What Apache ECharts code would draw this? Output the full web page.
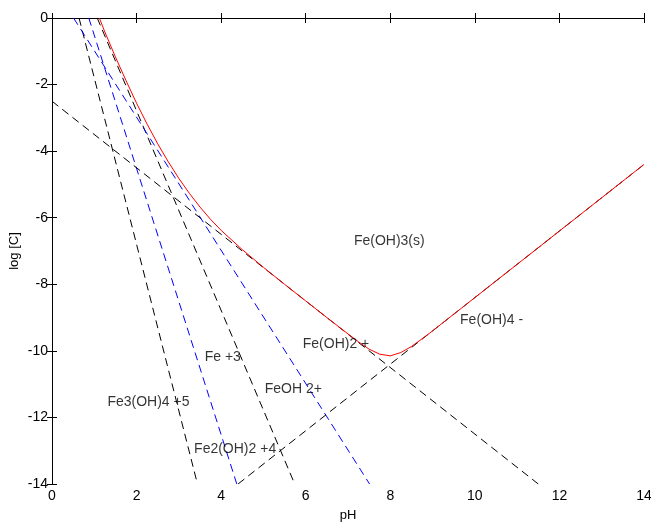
<!DOCTYPE html>
<html>
<head>
<meta charset="utf-8">
<script src="https://cdn.jsdelivr.net/npm/echarts@6/dist/echarts.min.js"></script>
<style>
html,body{margin:0;padding:0;background:#fff;}
#chart{width:651px;height:522px;}
</style>
</head>
<body>
<div id="chart"></div>
<script>
// Axis ticks
var xTicks = [0, 2, 4, 6, 8, 10, 12, 14];
var yTicks = [-14, -12, -10, -8, -6, -4, -2, 0];

// Species lines (pH, log C endpoints)
var fe3oh4 = [[0.64, 0], [3.44, -14]];
var fe2oh2 = [[0.87, 0], [4.37, -14]];
var fe3 = [[1.07, 0], [5.74, -14]];
var feoh = [[0.51, 0], [7.51, -14]];
var feoh2 = [[0, -2.5], [11.5, -14]];
var feoh4 = [[4.4, -14], [14, -4.4]];

// Total solubility curve (red)
var totalPH = [1.12, 1.25, 1.5, 1.75, 2, 2.25, 2.5, 2.75, 3, 3.25, 3.5, 3.75, 4, 4.5, 5, 5.5, 6, 6.5, 7, 7.25, 7.5, 7.75, 8, 8.25, 8.5, 8.75, 9, 9.5, 10, 11, 12, 13, 14];
var totalLogC = [0, -0.42, -1.17, -1.88, -2.56, -3.19, -3.78, -4.32, -4.82, -5.27, -5.68, -6.05, -6.38, -6.96, -7.49, -8.0, -8.5, -9.0, -9.49, -9.73, -9.95, -10.1, -10.15, -10.05, -9.87, -9.64, -9.4, -8.9, -8.4, -7.4, -6.4, -5.4, -4.4];

// Text labels (left edge pH, centre log C)
var labelNames = ['Fe(OH)3(s)', 'Fe(OH)4 -', 'Fe(OH)2 +', 'Fe +3', 'FeOH 2+', 'Fe3(OH)4 +5', 'Fe2(OH)2 +4'];
var labelX = [7.14, 9.65, 5.93, 3.61, 5.03, 1.31, 3.36];
var labelY = [-6.69, -9.07, -9.80, -10.19, -11.15, -11.53, -12.96];

var FONT = 'Liberation Sans, Arial, sans-serif';

function dashed(data, color) {
  return {
    type: 'line', data: data, showSymbol: false, symbol: 'none', silent: true,
    xAxisIndex: 0, yAxisIndex: 0,
    lineStyle: { color: color, width: 1, type: [8, 5] }, z: 2
  };
}

var totalData = totalPH.map(function (p, i) { return [p, totalLogC[i]]; });
var labelData = labelNames.map(function (n, i) { return { name: n, value: [labelX[i], labelY[i]] }; });

var chart = echarts.init(document.getElementById('chart'), null, { renderer: 'canvas' });
function axisCommon() {
  return {
    axisLine: { show: true, lineStyle: { color: '#000', width: 1 } },
    axisTick: { show: true, inside: true, length: 5, lineStyle: { color: '#000' } },
    splitLine: { show: false },
    nameMoveOverlap: false
  };
}
chart.setOption({
  animation: false,
  backgroundColor: '#fff',
  grid: { left: 52, top: 18, width: 592, height: 466, containLabel: false, outerBoundsMode: 'none' },
  xAxis: [
    Object.assign({
      type: 'value', min: 0, max: 14, interval: 2, position: 'bottom',
      name: 'pH', nameLocation: 'middle', nameGap: 25,
      nameTextStyle: { fontFamily: FONT, fontSize: 13, color: '#000' },
      axisLabel: { fontFamily: FONT, fontSize: 14, color: '#000', margin: 5,
        formatter: function (v) { return xTicks.indexOf(v) >= 0 ? String(v) : ''; } }
    }, axisCommon()),
    Object.assign({
      type: 'value', min: 0, max: 14, interval: 2, position: 'top',
      axisLabel: { show: false }
    }, axisCommon())
  ],
  yAxis: [
    Object.assign({
      type: 'value', min: -14, max: 0, interval: 2, position: 'left',
      name: 'log [C]', nameLocation: 'middle', nameGap: 31,
      nameTextStyle: { fontFamily: FONT, fontSize: 13, color: '#000' },
      axisLabel: { fontFamily: FONT, fontSize: 14, color: '#000', margin: 4,
        formatter: function (v) { return yTicks.indexOf(v) >= 0 ? String(v) : ''; } }
    }, axisCommon()),
    Object.assign({
      type: 'value', min: -14, max: 0, interval: 2, position: 'right',
      axisLabel: { show: false }
    }, axisCommon())
  ],
  series: [
    dashed(fe3oh4, '#000000'),
    dashed(fe2oh2, '#0000ff'),
    dashed(fe3, '#000000'),
    dashed(feoh, '#0000ff'),
    dashed(feoh2, '#000000'),
    dashed(feoh4, '#000000'),
    {
      type: 'line', data: totalData, showSymbol: false, symbol: 'none', silent: true,
      lineStyle: { color: '#ff0000', width: 1 }, z: 3
    },
    {
      type: 'scatter', data: labelData, symbolSize: 0, silent: true, z: 4,
      label: { show: true, position: 'right', distance: 0, formatter: '{b}',
        fontFamily: FONT, fontSize: 14, color: '#000' }
    }
  ]
});
</script>
</body>
</html>
